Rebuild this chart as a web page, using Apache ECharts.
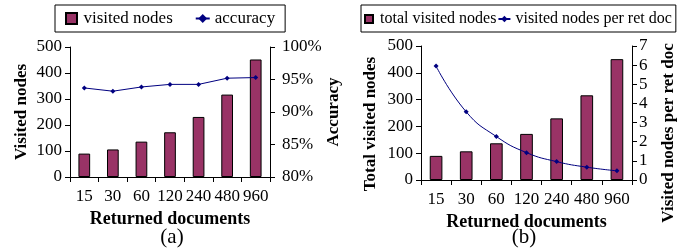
<!DOCTYPE html>
<html>
<head>
<meta charset="utf-8">
<script src="https://cdn.jsdelivr.net/npm/echarts@6/dist/echarts.min.js"></script>
<style>
  html, body { margin: 0; padding: 0; background: #fff; }
  #main { width: 688px; height: 252px; }
</style>
</head>
<body>
<div id="main"></div>
<script>
// returned documents on the x axis of both panels
var categories = ['15', '30', '60', '120', '240', '480', '960'];
// (a) bars and line
var visitedNodes = [90, 106, 136, 172, 231, 317, 452];
var accuracy = [93.7, 93.2, 93.85, 94.25, 94.25, 95.2, 95.3];
// (b) bars and line
var totalVisited = [90, 107, 137, 172, 230, 316, 451];
var perRetDoc = [5.95, 3.56, 2.27, 1.43, 0.96, 0.67, 0.48];

var serif = 'Liberation Serif';
var barColor = '#993366';
var lineColor = '#000080';
var square = 'path://M0,0L10,0L10,10L0,10Z';

var tickLabel = { fontFamily: serif, fontSize: 17, color: '#000' };
var nameStyle = { fontFamily: serif, fontSize: 17, fontWeight: 'bold', color: '#000' };
var axisLine = { show: true, lineStyle: { color: '#000', width: 1 } };
var axisTick = { show: true, length: 5, lineStyle: { color: '#000' } };

function xAxis(grid) {
    return {
        type: 'category', gridIndex: grid, data: categories,
        axisLine: axisLine, axisTick: axisTick,
        axisLabel: Object.assign({ margin: 11, interval: 0 }, tickLabel),
        name: 'Returned documents', nameLocation: 'middle', nameGap: 33,
        nameTextStyle: Object.assign({}, nameStyle, { fontSize: 18 })
    };
}

function sideName(text, x, y) {
    return {
        type: 'text', x: x, y: y, rotation: Math.PI / 2,
        style: { text: text, font: 'bold 17px "Liberation Serif"', fill: '#000',
                 align: 'center', verticalAlign: 'middle' }
    };
}

var myChart = echarts.init(document.getElementById('main'));
var option = {
    animation: false,
    backgroundColor: '#fff',
    title: [
        { text: '(a)', left: 172, top: 227, textAlign: 'center', padding: 0,
          textStyle: { fontFamily: serif, fontSize: 21, fontWeight: 'normal', color: '#000' } },
        { text: '(b)', left: 524, top: 227, textAlign: 'center', padding: 0,
          textStyle: { fontFamily: serif, fontSize: 21, fontWeight: 'normal', color: '#000' } }
    ],
    legend: [
        {
            left: 55, top: 5, padding: [5, 10, 5, 10], itemGap: 22,
            itemWidth: 14, itemHeight: 11,
            borderColor: '#000', borderWidth: 1, borderRadius: 0, backgroundColor: '#fff',
            textStyle: { fontFamily: serif, fontSize: 17, color: '#000' },
            data: [{ name: 'visited nodes', icon: square }, { name: 'accuracy' }]
        },
        {
            left: 361, top: 5, width: 330, padding: [6, 4, 5, 3], itemGap: 1,
            itemWidth: 12, itemHeight: 8,
            borderColor: '#000', borderWidth: 1, borderRadius: 0, backgroundColor: '#fff',
            textStyle: { fontFamily: serif, fontSize: 16, color: '#000' },
            data: [{ name: 'total visited nodes', icon: square }, { name: 'visited nodes per ret doc' }]
        }
    ],
    grid: [
        { left: 70, right: 418, top: 47, height: 130, containLabel: false },
        { left: 421, right: 56, top: 46, height: 134, containLabel: false }
    ],
    xAxis: [xAxis(0), xAxis(1)],
    yAxis: [
        {
            type: 'value', gridIndex: 0, min: 0, max: 500, interval: 100,
            axisLine: axisLine, axisTick: axisTick, splitLine: { show: false },
            axisLabel: Object.assign({ margin: 8 }, tickLabel),
            name: 'Visited nodes', nameLocation: 'middle', nameGap: 40, nameRotate: 90,
            nameTextStyle: nameStyle
        },
        {
            type: 'value', gridIndex: 0, position: 'right', min: 80, max: 100, interval: 5,
            axisLine: axisLine, axisTick: axisTick, splitLine: { show: false },
            axisLabel: Object.assign({ margin: 12, formatter: '{value}%' }, tickLabel),
            name: 'Accuracy', nameLocation: 'middle', nameGap: 38, nameRotate: 90,
            nameTextStyle: nameStyle
        },
        {
            type: 'value', gridIndex: 1, min: 0, max: 500, interval: 100,
            axisLine: axisLine, axisTick: axisTick, splitLine: { show: false },
            axisLabel: Object.assign({ margin: 8 }, tickLabel)
        },
        {
            type: 'value', gridIndex: 1, position: 'right', min: 0, max: 7, interval: 1,
            axisLine: axisLine, axisTick: axisTick, splitLine: { show: false },
            axisLabel: Object.assign({ margin: 7 }, tickLabel)
        }
    ],
    graphic: [
        sideName('Total visited nodes', 371, 124),
        sideName('Visited nodes per ret doc', 669, 133)
    ],
    series: [
        {
            name: 'visited nodes', type: 'bar', xAxisIndex: 0, yAxisIndex: 0,
            data: visitedNodes, barWidth: '41%',
            itemStyle: { color: barColor, borderColor: '#000', borderWidth: 1 }
        },
        {
            name: 'accuracy', type: 'line', xAxisIndex: 0, yAxisIndex: 1,
            data: accuracy, symbol: 'diamond', symbolSize: 5,
            lineStyle: { color: lineColor, width: 1 }, itemStyle: { color: lineColor }
        },
        {
            name: 'total visited nodes', type: 'bar', xAxisIndex: 1, yAxisIndex: 2,
            data: totalVisited, barWidth: '42%',
            itemStyle: { color: barColor, borderColor: '#000', borderWidth: 1 }
        },
        {
            name: 'visited nodes per ret doc', type: 'line', xAxisIndex: 1, yAxisIndex: 3,
            data: perRetDoc, smooth: true, symbol: 'diamond', symbolSize: 5,
            lineStyle: { color: lineColor, width: 1 }, itemStyle: { color: lineColor }
        }
    ]
};
myChart.setOption(option);
</script>
</body>
</html>
